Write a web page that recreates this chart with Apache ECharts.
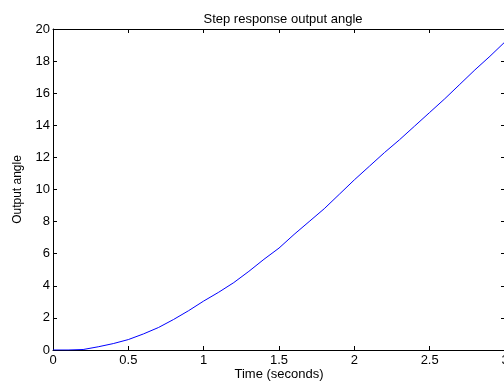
<!DOCTYPE html>
<html>
<head>
<meta charset="utf-8">
<script src="https://cdn.jsdelivr.net/npm/echarts@6/dist/echarts.min.js"></script>
<style>html,body{margin:0;padding:0;background:#fff}#c{width:504px;height:382px}</style>
</head>
<body>
<div id="c"></div>
<script>
var timeValues = [0, 0.1, 0.2, 0.3, 0.4, 0.5, 0.6, 0.7, 0.8, 0.9, 1.0, 1.1, 1.2, 1.3, 1.4, 1.5, 1.6, 1.7, 1.8, 1.9, 2.0, 2.1, 2.2, 2.3, 2.4, 2.5, 2.6, 2.7, 2.8, 2.9, 3.0];
var angleValues = [0, 0.0, 0.03, 0.2, 0.4, 0.65, 1.0, 1.4, 1.9, 2.45, 3.05, 3.6, 4.2, 4.9, 5.65, 6.35, 7.2, 8.0, 8.8, 9.7, 10.6, 11.45, 12.3, 13.1, 13.95, 14.8, 15.65, 16.55, 17.45, 18.3, 19.2];
var xTicks = [0, 0.5, 1, 1.5, 2, 2.5, 3];
var yTicks = [0, 2, 4, 6, 8, 10, 12, 14, 16, 18, 20];

var FONT = 'Liberation Sans, Arial, sans-serif';
var points = timeValues.map(function (t, i) { return [t, angleValues[i]]; });

var chart = echarts.init(document.getElementById('c'), null, {renderer: 'canvas'});
var axisCommon = {
  type: 'value',
  axisLine: {show: true, onZero: false, lineStyle: {color: '#000', width: 1}},
  axisTick: {show: true, inside: true, length: 4, lineStyle: {color: '#000'}},
  splitLine: {show: false}
};
chart.setOption({
  animation: false,
  backgroundColor: '#fff',
  title: {
    text: 'Step response output angle',
    left: 278, top: 8, textAlign: 'center',
    textStyle: {fontFamily: FONT, fontSize: 13, fontWeight: 'normal', color: '#000'}
  },
  grid: {left: 53, top: 29, right: -1, bottom: 32, containLabel: false, outerBoundsMode: 'none'},
  xAxis: [
    Object.assign({}, axisCommon, {
      position: 'bottom', min: xTicks[0], max: xTicks[xTicks.length - 1], interval: 0.5,
      name: 'Time (seconds)', nameLocation: 'middle', nameGap: 18, nameMoveOverlap: false,
      nameTextStyle: {fontFamily: FONT, fontSize: 13, color: '#000'},
      axisLabel: {fontFamily: FONT, fontSize: 13, color: '#000', margin: 4, showMaxLabel: true,
        formatter: function (v) { return String(v); }}
    }),
    Object.assign({}, axisCommon, {
      position: 'top', min: xTicks[0], max: xTicks[xTicks.length - 1], interval: 0.5,
      axisLabel: {show: false}
    })
  ],
  yAxis: [
    Object.assign({}, axisCommon, {
      position: 'left', min: yTicks[0], max: yTicks[yTicks.length - 1], interval: 2,
      name: 'Output angle', nameLocation: 'middle', nameGap: 29, nameRotate: 90, nameMoveOverlap: false,
      nameTextStyle: {fontFamily: FONT, fontSize: 12, color: '#000'},
      axisLabel: {fontFamily: FONT, fontSize: 13, color: '#000', margin: 3}
    }),
    Object.assign({}, axisCommon, {
      position: 'right', min: yTicks[0], max: yTicks[yTicks.length - 1], interval: 2,
      axisLabel: {show: false}
    })
  ],
  series: [{
    type: 'line',
    data: points,
    showSymbol: false,
    smooth: false,
    lineStyle: {color: '#0000ff', width: 1},
    itemStyle: {color: '#0000ff'}
  }]
});
</script>
</body>
</html>
